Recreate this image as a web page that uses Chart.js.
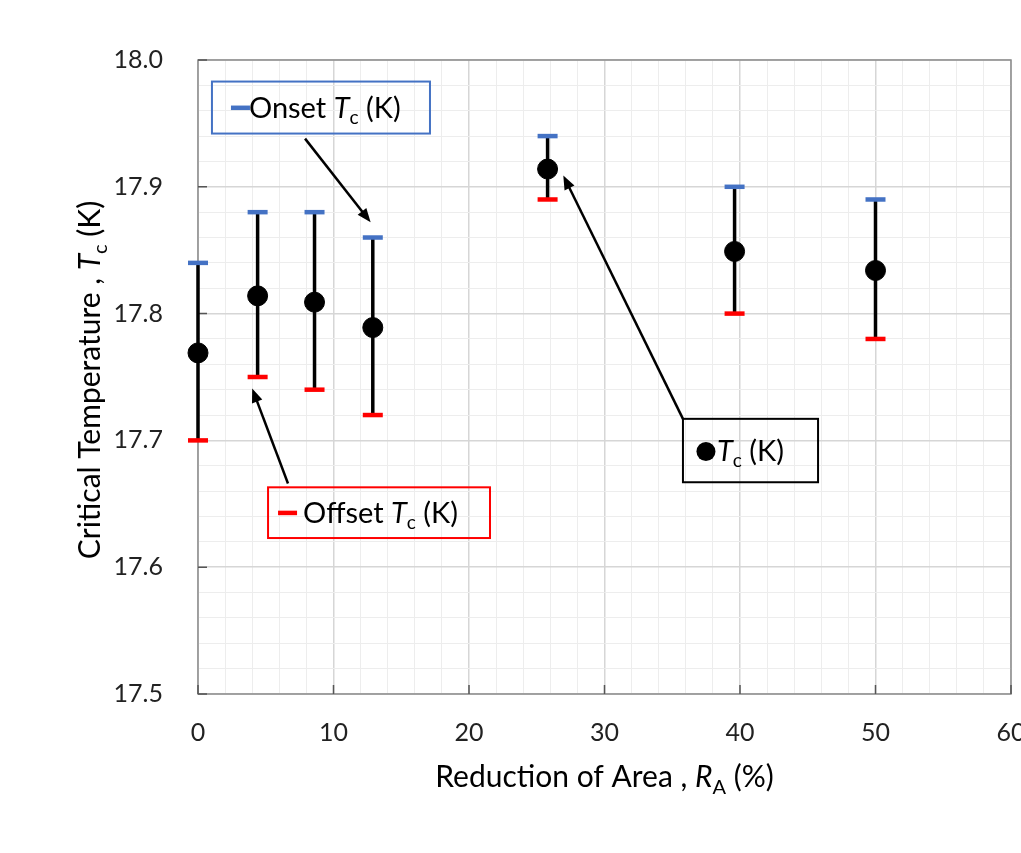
<!DOCTYPE html>
<html lang="en">
<head>
    <meta charset="utf-8"/>
    <title>Critical Temperature vs Reduction of Area</title>
    <script src="https://cdn.jsdelivr.net/npm/chart.js"></script>
    <style>
        html, body { margin: 0; padding: 0; background: #fff; }
    </style>
</head>
<body>
<canvas id="tcChart" width="1021" height="853"></canvas>
<script>
    // values
    const reduction = [0, 4.4, 8.6, 12.9, 25.8, 39.6, 50.0];   // R_A (%)
    const tcMid     = [17.769, 17.814, 17.809, 17.789, 17.914, 17.849, 17.834];
    const tcOnset   = [17.84, 17.88, 17.88, 17.86, 17.94, 17.90, 17.89];
    const tcOffset  = [17.70, 17.75, 17.74, 17.72, 17.89, 17.80, 17.78];
    const xTickLabels = ['0', '10', '20', '30', '40', '50', '60'];
    const yTickLabels = ['17.5', '17.6', '17.7', '17.8', '17.9', '18.0'];

    const FONT = 'Lato, "Open Sans", sans-serif';
    const BLUE = '#4472C4';
    const RED = '#FF0000';
    const LAST_X = xTickLabels[xTickLabels.length - 1];
    const X_TICK_PAD = 24;

    // call-out boxes, placed in data units: [x1, yTop, x2, yBottom], arrow [fromX, fromY, toX, toY]
    const notes = [
        { box: [1.03, 17.983, 17.12, 17.942], color: BLUE, key: 'blue',
          parts: [{ t: 'Onset ' }, { t: 'T', i: true }, { t: 'c', sub: true }, { t: ' (K)' }],
          arrow: [7.9, 17.938, 12.74, 17.872] },
        { box: [5.17, 17.663, 21.55, 17.623], color: RED, key: 'red',
          parts: [{ t: 'Offset ' }, { t: 'T', i: true }, { t: 'c', sub: true }, { t: ' (K)' }],
          arrow: [6.64, 17.666, 4.0, 17.741] },
        { box: [35.79, 17.717, 45.76, 17.667], color: '#000', key: 'dot',
          parts: [{ t: 'T', i: true }, { t: 'c', sub: true }, { t: ' (K)' }],
          arrow: [35.79, 17.717, 26.96, 17.909] }
    ];

    function isMajorX(v) { return xTickLabels.includes(String(Math.round(v))) && Math.abs(v - Math.round(v)) < 1e-6; }
    function yLabel(v) {
        const s = v.toFixed(1);
        return (Math.abs(v - parseFloat(s)) < 1e-6 && yTickLabels.includes(s)) ? s : '';
    }

    function textRuns(parts, size) {
        return parts.map(p => ({
            text: p.t,
            font: (p.i ? 'italic ' : '') + (p.sub ? Math.round(size * 0.66) : size) + 'px ' + FONT,
            dy: p.sub ? size * 0.22 : 0
        }));
    }
    function richWidth(ctx, parts, size) {
        let w = 0;
        textRuns(parts, size).forEach(r => { ctx.font = r.font; w += ctx.measureText(r.text).width; });
        return w;
    }
    function drawRich(ctx, parts, size, x, y) {
        ctx.textAlign = 'left';
        ctx.textBaseline = 'alphabetic';
        textRuns(parts, size).forEach(r => {
            ctx.font = r.font;
            ctx.fillText(r.text, x, y + r.dy);
            x += ctx.measureText(r.text).width;
        });
    }
    function drawArrow(ctx, x1, y1, x2, y2) {
        const a = Math.atan2(y2 - y1, x2 - x1);
        const len = 14, half = 5.5;
        const cx = Math.cos(a), sy = Math.sin(a);
        ctx.beginPath();
        ctx.moveTo(x1, y1);
        ctx.lineTo(x2 - len * 0.8 * cx, y2 - len * 0.8 * sy);
        ctx.stroke();
        ctx.beginPath();
        ctx.moveTo(x2, y2);
        ctx.lineTo(x2 - len * cx + half * sy, y2 - len * sy - half * cx);
        ctx.lineTo(x2 - len * cx - half * sy, y2 - len * sy + half * cx);
        ctx.closePath();
        ctx.fill();
    }

    const decorPlugin = {
        id: 'decor',
        beforeDatasetsDraw(chart) {
            const { ctx, chartArea: a, scales: { x, y } } = chart;
            ctx.save();
            // plot frame
            ctx.strokeStyle = '#8c8c8c';
            ctx.lineWidth = 1.5;
            ctx.strokeRect(a.left, a.top, a.right - a.left, a.bottom - a.top);
            // inner tick marks
            ctx.strokeStyle = '#555';
            ctx.lineWidth = 1.5;
            ctx.beginPath();
            xTickLabels.forEach(t => {
                const px = x.getPixelForValue(parseFloat(t));
                ctx.moveTo(px, a.bottom); ctx.lineTo(px, a.bottom - 9);
            });
            yTickLabels.forEach(t => {
                const py = y.getPixelForValue(parseFloat(t));
                ctx.moveTo(a.left, py); ctx.lineTo(a.left + 9, py);
            });
            ctx.stroke();
            // error bars from offset to onset
            ctx.strokeStyle = '#000';
            ctx.lineWidth = 3.5;
            ctx.beginPath();
            reduction.forEach((r, i) => {
                const px = x.getPixelForValue(r);
                ctx.moveTo(px, y.getPixelForValue(tcOffset[i]));
                ctx.lineTo(px, y.getPixelForValue(tcOnset[i]));
            });
            ctx.stroke();
            ctx.restore();
        },
        afterDraw(chart) {
            const { ctx, chartArea: a, scales: { x, y } } = chart;
            ctx.save();
            ctx.fillStyle = '#222';

            // last x tick label sits at the canvas edge (cut off, as in the source)
            ctx.font = '25px ' + FONT;
            ctx.textAlign = 'center';
            ctx.textBaseline = 'middle';
            ctx.fillText(LAST_X, x.getPixelForValue(parseFloat(LAST_X)), a.bottom + X_TICK_PAD + 15);

            // axis titles
            ctx.fillStyle = '#000';
            const xt = [{ t: 'Reduction of Area , ' }, { t: 'R', i: true }, { t: 'A', sub: true }, { t: ' (%)' }];
            const size = 30;
            const xw = richWidth(ctx, xt, size);
            drawRich(ctx, xt, size, (a.left + a.right) / 2 - xw / 2, 787);

            const yt = [{ t: 'Critical Temperature , ' }, { t: 'T', i: true }, { t: 'c', sub: true }, { t: ' (K)' }];
            const yw = richWidth(ctx, yt, size);
            ctx.save();
            ctx.translate(100, (a.top + a.bottom) / 2 + 3);
            ctx.rotate(-Math.PI / 2);
            drawRich(ctx, yt, size, -yw / 2, 0);
            ctx.restore();

            // call-outs
            notes.forEach(n => {
                const bx1 = x.getPixelForValue(n.box[0]), by1 = y.getPixelForValue(n.box[1]);
                const bx2 = x.getPixelForValue(n.box[2]), by2 = y.getPixelForValue(n.box[3]);
                ctx.strokeStyle = n.color;
                ctx.lineWidth = 2;
                ctx.strokeRect(bx1, by1, bx2 - bx1, by2 - by1);
                const cy = (by1 + by2) / 2;
                let tx;
                if (n.key === 'dot') {
                    ctx.fillStyle = '#000';
                    ctx.beginPath();
                    ctx.arc(bx1 + 23, cy + 1, 9.5, 0, Math.PI * 2);
                    ctx.fill();
                    tx = bx1 + 34;
                } else {
                    ctx.fillStyle = n.key === 'blue' ? BLUE : RED;
                    ctx.fillRect(bx1 + (n.key === 'blue' ? 19 : 10), cy - 2, 19, 4.5);
                    tx = bx1 + (n.key === 'blue' ? 37 : 35);
                }
                ctx.fillStyle = '#000';
                drawRich(ctx, n.parts, 29, tx, cy + 10);

                ctx.strokeStyle = '#000';
                ctx.lineWidth = 2.5;
                drawArrow(ctx,
                    x.getPixelForValue(n.arrow[0]), y.getPixelForValue(n.arrow[1]),
                    x.getPixelForValue(n.arrow[2]), y.getPixelForValue(n.arrow[3]));
            });
            ctx.restore();
        }
    };

    Chart.defaults.font.family = FONT;
    Chart.defaults.color = '#222';

    const pts = (vals) => reduction.map((r, i) => ({ x: r, y: vals[i] }));

    new Chart(document.getElementById('tcChart'), {
        type: 'scatter',
        data: {
            datasets: [
                {
                    label: 'Tc (K)',
                    data: pts(tcMid),
                    backgroundColor: '#000',
                    borderColor: '#000',
                    pointRadius: 10,
                    clip: false,
                    order: 0
                },
                {
                    label: 'Onset Tc (K)',
                    data: pts(tcOnset),
                    pointStyle: 'line',
                    pointRadius: 10,
                    borderWidth: 4.5,
                    borderColor: BLUE,
                    clip: false,
                    order: 1
                },
                {
                    label: 'Offset Tc (K)',
                    data: pts(tcOffset),
                    pointStyle: 'line',
                    pointRadius: 10,
                    borderWidth: 4.5,
                    borderColor: RED,
                    clip: false,
                    order: 2
                }
            ]
        },
        options: {
            responsive: false,
            animation: false,
            events: [],
            layout: { autoPadding: false, padding: { top: 60, right: 10, bottom: 0, left: 0 } },
            plugins: {
                legend: { display: false },
                tooltip: { enabled: false }
            },
            scales: {
                x: {
                    type: 'linear',
                    min: 0,
                    max: 60,
                    border: { display: false },
                    grid: {
                        drawTicks: false,
                        color: c => isMajorX(c.tick.value) ? '#d6d6d6' : '#ededed',
                        lineWidth: c => isMajorX(c.tick.value) ? 1.5 : 1
                    },
                    ticks: {
                        stepSize: 2,
                        autoSkip: false,
                        maxRotation: 0,
                        padding: X_TICK_PAD,
                        font: { size: 25 },
                        // the last label is drawn by the plugin so it can run off the edge
                        callback: v => (isMajorX(v) && String(Math.round(v)) !== LAST_X) ? String(Math.round(v)) : ''
                    },
                    afterFit(scale) {
                        scale.height = 159;
                        scale.paddingLeft = 0;
                        scale.paddingRight = 0;
                    }
                },
                y: {
                    type: 'linear',
                    min: 17.5,
                    max: 18.0,
                    border: { display: false },
                    grid: {
                        drawTicks: false,
                        color: c => yLabel(c.tick.value) ? '#d6d6d6' : '#ededed',
                        lineWidth: c => yLabel(c.tick.value) ? 1.5 : 1
                    },
                    ticks: {
                        stepSize: 0.02,
                        autoSkip: false,
                        padding: 35,
                        font: { size: 25 },
                        callback: v => yLabel(v)
                    },
                    afterFit(scale) {
                        scale.width = 198;
                    }
                }
            }
        },
        plugins: [decorPlugin]
    });
</script>
</body>
</html>
